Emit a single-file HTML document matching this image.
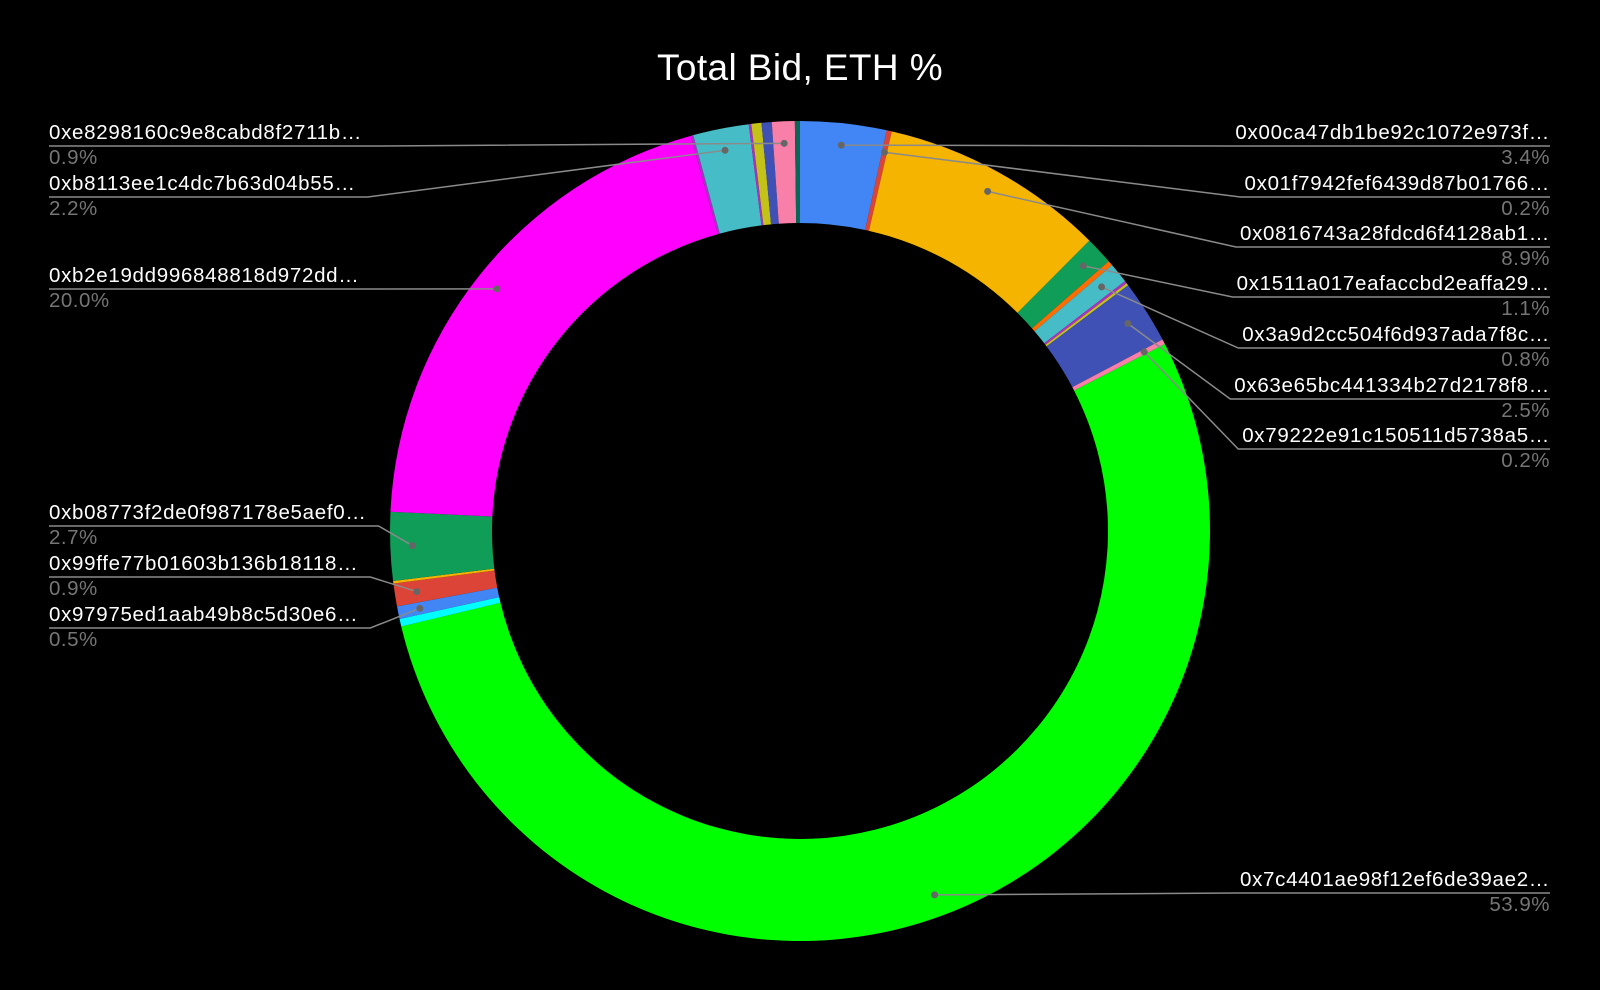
<!DOCTYPE html>
<html><head><meta charset="utf-8"><style>
html,body{margin:0;padding:0;background:#000;width:1600px;height:990px;overflow:hidden}
svg{display:block}
text{font-family:"Liberation Sans",sans-serif}
</style></head><body>
<svg id="c" width="1600" height="990">
<text x="800" y="80" text-anchor="middle" fill="#fff" font-size="37" letter-spacing="0.4">Total Bid, ETH %</text>
<g id="slices"></g>
<g id="labels"></g>
</svg>
<script>
const names = ["0x00ca47db1be92c1072e973f…","0x01f7942fef6439d87b01766…","0x0816743a28fdcd6f4128ab1…","0x1511a017eafaccbd2eaffa29…","","0x3a9d2cc504f6d937ada7f8c…","","","0x63e65bc441334b27d2178f8…","0x79222e91c150511d5738a5…","0x7c4401ae98f12ef6de39ae2…","","0x97975ed1aab49b8c5d30e6…","0x99ffe77b01603b136b18118…","","0xb08773f2de0f987178e5aef0…","0xb2e19dd996848818d972dd…","","0xb8113ee1c4dc7b63d04b55…","","","","0xe8298160c9e8cabd8f2711b…",""];
const values = [3.4,0.2,8.9,1.1,0.2,0.8,0.1,0.1,2.5,0.2,53.9,0.3,0.5,0.9,0.1,2.7,20.0,0.1,2.2,0.1,0.4,0.4,0.9,0.2];
const pctLabels = ["3.4%","0.2%","8.9%","1.1%","","0.8%","","","2.5%","0.2%","53.9%","","0.5%","0.9%","","2.7%","20.0%","","2.2%","","","","0.9%",""];
const colors = ["#4285f4","#db4437","#f4b400","#0f9d58","#ff6d00","#46bdc6","#ab30c4","#c2c218","#3f51b5","#f77fa8","#00ff00","#00ffff","#4285f4","#db4437","#f4b400","#0f9d58","#ff00ff","#ab30c4","#46bdc6","#ab30c4","#c2c218","#3f51b5","#f77fa8","#0b6654"];
const labelY = [139,190,240,290,0,341,0,0,392,442,886,0,621,570,0,519,282,0,190,0,0,0,139,0];
const NS="http://www.w3.org/2000/svg";
const cx=800, cy=531, R=410, r=308, dotR=388;
const total=values.reduce((a,b)=>a+b,0);
function pt(a,rad){return [cx+rad*Math.sin(a), cy-rad*Math.cos(a)];}
const gS=document.getElementById('slices'), gL=document.getElementById('labels');
let acc=0;
values.forEach((v,i)=>{
  const a0=acc/total*2*Math.PI; acc+=v; const a1=acc/total*2*Math.PI;
  const large=(a1-a0)>Math.PI?1:0;
  const p0=pt(a0,R),p1=pt(a1,R),q1=pt(a1,r),q0=pt(a0,r);
  const p=document.createElementNS(NS,'path');
  p.setAttribute('d',`M${p0[0]},${p0[1]} A${R},${R} 0 ${large} 1 ${p1[0]},${p1[1]} L${q1[0]},${q1[1]} A${r},${r} 0 ${large} 0 ${q0[0]},${q0[1]} Z`);
  p.setAttribute('fill',colors[i]);
  
  
  gS.appendChild(p);
  if(!names[i]) return;
  const am=(a0+a1)/2, d=pt(am,dotR);
  const right=Math.sin(am)>0 && labelY[i]<700 || i===10;
  const y=labelY[i];
  const t=document.createElementNS(NS,'text');
  t.textContent=names[i];
  t.setAttribute('y',y); t.setAttribute('font-size','20.5'); t.setAttribute('letter-spacing','0.7'); t.setAttribute('fill','#fff');
  
  
  const pc=document.createElementNS(NS,'text');
  pc.textContent=pctLabels[i];
  pc.setAttribute('y',y+25); pc.setAttribute('font-size','20.5'); pc.setAttribute('letter-spacing','0.5'); pc.setAttribute('fill','#757575');
  
  
  if(right){t.setAttribute('x',1550);t.setAttribute('text-anchor','end');pc.setAttribute('x',1550);pc.setAttribute('text-anchor','end');}
  else{t.setAttribute('x',49);pc.setAttribute('x',49);}
  gL.appendChild(t); gL.appendChild(pc);
  const w=t.getComputedTextLength();
  const ly=y+7;
  let pts;
  if(right){const sx=1550-w-4; pts=`${d[0]},${d[1]} ${sx},${ly} 1550,${ly}`;}
  else{const ex=49+w+12; pts=`49,${ly} ${ex},${ly} ${d[0]},${d[1]}`;}
  const l=document.createElementNS(NS,'polyline');
  l.setAttribute('points',pts); l.setAttribute('fill','none'); l.setAttribute('stroke','#8a8a8a'); l.setAttribute('stroke-width','1.5');
  
  
  gL.insertBefore(l,gL.firstChild);
  const c=document.createElementNS(NS,'circle');
  c.setAttribute('cx',d[0]); c.setAttribute('cy',d[1]); c.setAttribute('r',3.5); c.setAttribute('fill','#666');
  
  
  gL.appendChild(c);
});
</script>
</body></html>
